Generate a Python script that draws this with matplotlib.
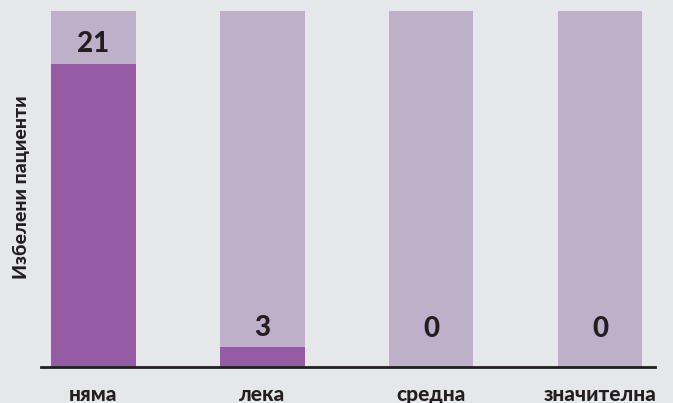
import matplotlib
matplotlib.use("Agg")
import matplotlib.pyplot as plt

categories = ["няма", "лека", "средна", "значителна"]
values = [21, 3, 0, 0]              # printed labels
bar_heights = [21.3, 1.4, 0.0, 0.0]  # drawn heights
scale_max = 25

BG = "#e6e7e9"
LIGHT = "#bfb0c9"
DARK = "#955ba5"
TXT = "#231f20"

W, H = 673, 403
fig = plt.figure(figsize=(W / 100, H / 100), dpi=100, facecolor=BG)
ax = fig.add_axes([41 / W, (H - 367) / H, (655 - 41) / W, (367 - 11) / H])
ax.set_facecolor(BG)

x = list(range(len(categories)))
ax.bar(x, [scale_max] * len(x), width=0.5, color=LIGHT, zorder=1)
ax.bar(x, bar_heights, width=0.5, color=DARK, zorder=2)

ax.set_xlim(-0.31, 3.325)
ax.set_ylim(0, scale_max)

for xi, v, h in zip(x, values, bar_heights):
    ax.annotate(str(v), xy=(xi, max(h, 1.3)), xytext=(0, 14), textcoords="offset points",
                ha="center", va="center", fontsize=20, fontweight="black",
                color=TXT, family="Lato", zorder=3)

for s in ["top", "right", "left"]:
    ax.spines[s].set_visible(False)
ax.spines["bottom"].set_color(TXT)
ax.spines["bottom"].set_linewidth(2)
ax.set_yticks([])
ax.set_xticks(x)
ax.set_xticklabels(categories, fontsize=15, fontweight="black", color=TXT, family="Lato")
ax.tick_params(axis="x", length=0, pad=13)

fig.text(22 / W, 1 - 187 / H, "Избелени пациенти", rotation=90, ha="center", va="center",
         fontsize=14, fontweight="black", color=TXT, family="Lato")

fig.savefig("out.png", dpi=100, facecolor=BG)
